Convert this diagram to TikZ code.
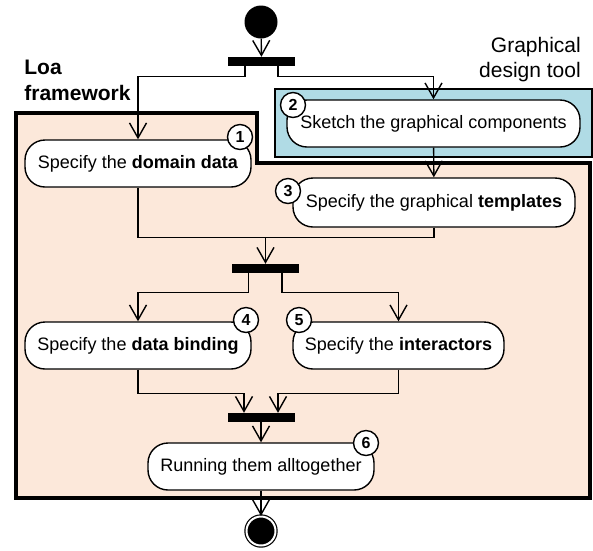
\documentclass[tikz,border=0pt]{standalone}
\usepackage{fontspec}
\setmainfont{Liberation Sans}
\usetikzlibrary{arrows.meta}
\definecolor{loafill}{RGB}{252,232,218}
\definecolor{toolfill}{RGB}{176,219,229}

\begin{document}
\begin{tikzpicture}[x=1pt,y=-1pt]
 \tikzstyle{anode}=[rectangle, rounded corners=20pt, draw, fill=white, line width=1.4pt, minimum height=47pt, inner sep=0pt, font=\fontsize{18}{21}\selectfont]
 \tikzstyle{bnode}=[circle, draw, fill=white, line width=1.4pt, minimum size=25pt, inner sep=0pt, font=\fontsize{16}{18}\selectfont\bfseries]
 \tikzstyle{bar}=[rectangle, fill, minimum width=67pt, minimum height=9pt, inner sep=0pt]
 \tikzstyle{flow}=[-{Straight Barb[length=15pt,width=17pt]}, line width=1.4pt]
\useasboundingbox (0,0) rectangle (593,550);
% the two frames
\draw[fill=loafill, line width=3.5pt] (16,113) -- (257,113) -- (257,163) -- (590,163) -- (590,498) -- (16,498) -- cycle;
\draw[fill=toolfill, line width=1.2pt] (275,89) rectangle (592,157);
\draw (77.5,80) node[align=left, font=\fontsize{21}{26}\selectfont\bfseries] (loa) {Loa\\framework};
\draw (530,60) node[align=right, font=\fontsize{21}{25}\selectfont] (tool) {Graphical\\design tool};
% start, bars and end
\draw (261,22) node[circle, fill, minimum size=33pt, inner sep=0pt] (start) {};
\draw (261.5,61.5) node[bar] (bar1) {};
\draw (265.5,268.5) node[bar] (bar2) {};
\draw (261,417.5) node[bar] (bar3) {};
\draw (261,531) node[circle, fill, draw, double=white, double distance=2pt, line width=1.2pt, minimum size=29pt, inner sep=0pt] (stop) {};
% activities
\draw (138,163.5) node[anode, minimum width=226pt] (a1) {Specify the \textbf{domain data}};
\draw (433.5,123.5) node[anode, minimum width=293pt] (a2) {Sketch the graphical components};
\draw (434,202.5) node[anode, minimum width=282pt, minimum height=49pt] (a3) {Specify the graphical \textbf{templates}};
\draw (138,345.5) node[anode, minimum width=226pt] (a4) {Specify the \textbf{data binding}};
\draw (398.5,345.5) node[anode, minimum width=211pt] (a5) {Specify the \textbf{interactors}};
\draw (261,466.5) node[anode, minimum width=226pt] (a6) {Running them alltogether};
% step numbers
\draw (240,137) node[bnode] (b1) {1};
\draw (293,105) node[bnode] (b2) {2};
\draw (288,191) node[bnode] (b3) {3};
\draw (246,320) node[bnode] (b4) {4};
\draw (299,320) node[bnode] (b5) {5};
\draw (366,443) node[bnode] (b6) {6};
% flows
\draw[flow] (start) -- (bar1);
\draw[flow] ([xshift=-16.5pt]bar1.south) -- ++(0,10) -| (a1.north);
\draw[flow] ([xshift=16.5pt]bar1.south) -- ++(0,10) -| (a2.north);
\draw[flow] (a2) -- (a3);
\draw[line width=1.4pt] (a3.south) -- ++(0,10) coordinate (j1) -| (a1.south);
\draw[flow] (bar2.north |- j1) -- (bar2.north);
\draw[flow] ([xshift=-17pt]bar2.south) -- ++(0,19) -| (a4.north);
\draw[flow] ([xshift=16.5pt]bar2.south) -- ++(0,19) -| (a5.north);
\draw[flow] (a4.south) -- ++(0,24) -| ([xshift=-17pt]bar3.north);
\draw[flow] (a5.south) -- ++(0,24) -| ([xshift=17pt]bar3.north);
\draw[flow] (bar3) -- (a6);
\draw[flow] (a6) -- (stop);
\end{tikzpicture}
\end{document}
